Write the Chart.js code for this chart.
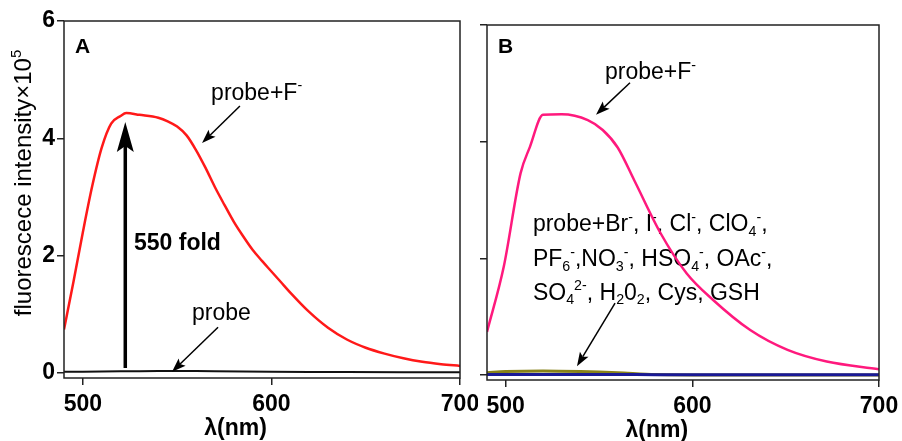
<!DOCTYPE html>
<html lang="en">
<head>
<meta charset="UTF-8" />
<title>fluorescence spectra</title>
<style>
  body { margin: 0; background: #ffffff; }
  .wrap { position: relative; width: 902px; height: 441px; }
  #chartA { position: absolute; left: 0; top: 0; }
  #chartB { position: absolute; left: 470px; top: 0; }
</style>
<script src="https://cdn.jsdelivr.net/npm/chart.js"></script>
</head>
<body>
<div class="wrap">
  <canvas id="chartA" width="478" height="441"></canvas>
  <canvas id="chartB" width="432" height="441"></canvas>
</div>
<script>
  const FONT = '"Liberation Sans", Arial, Helvetica, sans-serif';

  // axis ticks
  const xTicks = [500, 600, 700];
  const yTicks = [0, 2, 4, 6];

  // panel A: probe + F-
  const wlA = [490, 495, 500, 505, 510, 515, 520, 523, 530, 540, 545, 550, 555, 560, 565, 570,
    575, 580, 585, 590, 595, 600, 605, 610, 620, 630, 640, 650, 660, 670, 680, 690, 700];
  const probeF_A = [0.74, 1.55, 2.40, 3.19, 3.84, 4.25, 4.38, 4.43, 4.40, 4.35, 4.29, 4.20, 4.05, 3.80, 3.50, 3.17,
    2.87, 2.58, 2.33, 2.10, 1.91, 1.73, 1.55, 1.37, 1.04, 0.77, 0.57, 0.43, 0.33, 0.25, 0.19, 0.15, 0.12];
  // panel A: probe alone
  const wlProbeA = [490, 510, 530, 550, 570, 600, 640, 700];
  const probe_A = [0.02, 0.025, 0.03, 0.035, 0.03, 0.02, 0.015, 0.01];

  // panel B: probe + F-
  const wlB = [490, 499, 508, 513, 520, 530, 544, 552, 560, 569, 583, 597, 611, 631, 651, 672, 700];
  const probeF_B = [0.74, 1.86, 3.46, 3.91, 4.46, 4.47, 4.37, 4.20, 3.90, 3.33, 2.43, 1.74, 1.29, 0.77, 0.43, 0.23, 0.10];
  // panel B: other anions / analytes
  const wlOthers = [490, 500, 520, 540, 560, 580, 620, 700];
  const others_olive = [0.04, 0.06, 0.07, 0.06, 0.04, 0.01, 0.0, 0.0];
  const others_blue = [0.008, 0.008, 0.008, 0.008, 0.008, 0.006, 0.005, 0.005];

  const pts = (xs, ys) => xs.map((x, i) => ({ x: x, y: ys[i] }));

  // draws text with sub/superscripts; parts = [[text, mode], ...]
  function drawRich(ctx, parts, x, y, size, bold) {
    const w = bold ? 'bold ' : '';
    let cx = x;
    parts.forEach(([t, mode]) => {
      let s = size, dy = 0;
      if (mode === 'sup') { s = size * 0.62; dy = -size * 0.42; }
      if (mode === 'sub') { s = size * 0.62; dy = size * 0.2; }
      ctx.font = w + s + 'px ' + FONT;
      ctx.fillText(t, cx, y + dy);
      cx += ctx.measureText(t).width;
    });
    return cx - x;
  }
  function richWidth(ctx, parts, size, bold) {
    const w = bold ? 'bold ' : '';
    let total = 0;
    parts.forEach(([t, mode]) => {
      const s = mode ? size * 0.62 : size;
      ctx.font = w + s + 'px ' + FONT;
      total += ctx.measureText(t).width;
    });
    return total;
  }

  function drawArrow(ctx, x1, y1, x2, y2, lw, headLen, headW) {
    const a = Math.atan2(y2 - y1, x2 - x1);
    const bx = x2 - Math.cos(a) * headLen * 0.8;
    const by = y2 - Math.sin(a) * headLen * 0.8;
    ctx.save();
    ctx.strokeStyle = '#000';
    ctx.fillStyle = '#000';
    ctx.lineWidth = lw;
    ctx.beginPath();
    ctx.moveTo(x1, y1);
    ctx.lineTo(bx, by);
    ctx.stroke();
    const px = -Math.sin(a), py = Math.cos(a);
    const hx = x2 - Math.cos(a) * headLen, hy = y2 - Math.sin(a) * headLen;
    ctx.beginPath();
    ctx.moveTo(x2, y2);
    ctx.lineTo(hx + px * headW / 2, hy + py * headW / 2);
    ctx.lineTo(bx, by);
    ctx.lineTo(hx - px * headW / 2, hy - py * headW / 2);
    ctx.closePath();
    ctx.fill();
    ctx.restore();
  }

  // annotations (data coordinates)
  const notesA = {
    texts: [
      { x: 495.8, y: 5.45, parts: [['A', '']], size: 21, bold: true },
      { x: 568, y: 4.66, parts: [['probe+F', ''], ['-', 'sup']], size: 23 },
      { x: 527.1, y: 2.10, parts: [['550 fold', '']], size: 23, bold: true },
      { x: 557.9, y: 0.90, parts: [['probe', '']], size: 23 }
    ],
    arrows: [
      { from: [583.3, 4.55], to: [563.2, 3.92], lw: 1.5, len: 14, w: 10 },
      { from: [571.7, 0.78], to: [547.3, 0.02], lw: 1.5, len: 14, w: 10 },
      { from: [522.5, 0.085], to: [522.5, 4.28], lw: 3.5, len: 30, w: 17 }
    ]
  };
  const notesB = {
    texts: [
      { x: 495.9, y: 5.52, parts: [['B', '']], size: 21, bold: true },
      { x: 553.2, y: 5.07, parts: [['probe+F', ''], ['-', 'sup']], size: 23 },
      { x: 514.6, y: 2.46, parts: [['probe+Br', ''], ['-', 'sup'], [', I', ''], ['-', 'sup'], [', Cl', ''], ['-', 'sup'],
        [', ClO', ''], ['4', 'sub'], ['-', 'sup'], [',', '']], size: 23 },
      { x: 514.6, y: 1.86, parts: [['PF', ''], ['6', 'sub'], ['-', 'sup'], [',NO', ''], ['3', 'sub'], ['-', 'sup'],
        [', HSO', ''], ['4', 'sub'], ['-', 'sup'], [', OAc', ''], ['-', 'sup'], [',', '']], size: 23 },
      { x: 514.6, y: 1.29, parts: [['SO', ''], ['4', 'sub'], ['2-', 'sup'], [', H', ''], ['2', 'sub'], ['0', ''], ['2', 'sub'],
        [', Cys, GSH', '']], size: 23 }
    ],
    arrows: [
      { from: [566.6, 5.01], to: [548.4, 4.46], lw: 1.5, len: 14, w: 10 },
      { from: [558.6, 1.23], to: [538.2, 0.15], lw: 1.5, len: 14, w: 10 }
    ]
  };

  function notesPlugin(notes, showYTitle) {
    return {
      id: 'notes',
      beforeDatasetsDraw(chart) {
        const ctx = chart.ctx, xs = chart.scales.x, ys = chart.scales.y;
        ctx.save();
        ctx.fillStyle = '#000';
        ctx.textBaseline = 'alphabetic';
        ctx.textAlign = 'left';
        notes.texts.forEach(t => {
          drawRich(ctx, t.parts, xs.getPixelForValue(t.x), ys.getPixelForValue(t.y), t.size, t.bold);
        });
        ctx.restore();
      },
      afterDatasetsDraw(chart) {
        const ctx = chart.ctx, xs = chart.scales.x, ys = chart.scales.y;
        const a = chart.chartArea;
        notes.arrows.forEach(r => {
          drawArrow(ctx, xs.getPixelForValue(r.from[0]), ys.getPixelForValue(r.from[1]),
            xs.getPixelForValue(r.to[0]), ys.getPixelForValue(r.to[1]), r.lw, r.len, r.w);
        });
        // frame
        ctx.save();
        ctx.strokeStyle = '#222';
        ctx.lineWidth = 1.5;
        ctx.strokeRect(a.left, a.top, a.right - a.left, a.bottom - a.top);
        ctx.restore();
      },
      afterDraw(chart) {
        const ctx = chart.ctx, xs = chart.scales.x;
        const a = chart.chartArea;
        ctx.save();
        ctx.fillStyle = '#000';
        ctx.textAlign = 'center';
        ctx.textBaseline = 'alphabetic';
        ctx.font = 'bold 23px ' + FONT;
        ctx.fillText('\u03bb(nm)', xs.getPixelForValue(581), a.bottom + 57);
        if (showYTitle) {
          const parts = [['fluorescece intensity\u00d710', ''], ['5', 'sup']];
          ctx.translate(31, 183);
          ctx.rotate(-Math.PI / 2);
          ctx.textAlign = 'left';
          const w = richWidth(ctx, parts, 24, false);
          drawRich(ctx, parts, -w / 2, 0, 24, false);
        }
        ctx.restore();
      }
    };
  }

  function makeOptions(geo, showYLabels) {
    return {
      responsive: false,
      animation: false,
      devicePixelRatio: 1,
      layout: { padding: { left: 0, top: geo.top, right: geo.right, bottom: 0 } },
      plugins: { legend: { display: false }, tooltip: { enabled: false } },
      elements: { point: { radius: 0 } },
      scales: {
        x: {
          type: 'linear',
          min: 490,
          max: 700,
          afterBuildTicks: axis => { axis.ticks = xTicks.map(v => ({ value: v })); },
          afterFit: axis => { axis.height = geo.xh; axis.paddingLeft = 0; axis.paddingRight = 0; },
          border: { display: false },
          grid: { drawOnChartArea: false, drawTicks: true, tickLength: 7, color: '#222', lineWidth: 1.5 },
          ticks: { color: '#000', padding: 6, maxRotation: 0, font: { family: FONT, size: 23, weight: 'bold' } }
        },
        y: {
          type: 'linear',
          min: -0.086,
          max: 6,
          afterBuildTicks: axis => { axis.ticks = yTicks.map(v => ({ value: v })); },
          afterFit: axis => { axis.width = geo.yw; axis.paddingTop = 0; axis.paddingBottom = 0; },
          border: { display: false },
          grid: { drawOnChartArea: false, drawTicks: true, tickLength: 7, color: '#222', lineWidth: 1.5 },
          ticks: {
            color: '#000', padding: 2,
            font: { family: FONT, size: 23, weight: 'bold' },
            callback: v => showYLabels ? String(v) : ''
          }
        }
      }
    };
  }

  // Chart.js paints the first dataset on top, so the topmost line goes first
  new Chart(document.getElementById('chartA'), {
    type: 'line',
    data: {
      datasets: [
        { label: 'probe+F-', data: pts(wlA, probeF_A), borderColor: 'rgb(255,25,25)', borderWidth: 2.5,
          tension: 0.3, cubicInterpolationMode: 'monotone' },
        { label: 'probe', data: pts(wlProbeA, probe_A), borderColor: '#111', borderWidth: 2, tension: 0.3 }
      ]
    },
    options: makeOptions({ top: 21, right: 18, xh: 63, yw: 64 }, true),
    plugins: [notesPlugin(notesA, true)]
  });

  new Chart(document.getElementById('chartB'), {
    type: 'line',
    data: {
      datasets: [
        { label: 'probe+F-', data: pts(wlB, probeF_B), borderColor: 'rgb(255,25,125)', borderWidth: 2.5,
          cubicInterpolationMode: 'monotone' },
        { label: 'others', data: pts(wlOthers, others_blue), borderColor: 'rgb(25,25,150)', borderWidth: 3, tension: 0.3 },
        { label: 'others', data: pts(wlOthers, others_olive), borderColor: 'rgb(135,130,25)', borderWidth: 3, tension: 0.3 }
      ]
    },
    options: makeOptions({ top: 25, right: 23, xh: 61, yw: 17 }, false),
    plugins: [notesPlugin(notesB, false)]
  });
</script>
</body>
</html>
